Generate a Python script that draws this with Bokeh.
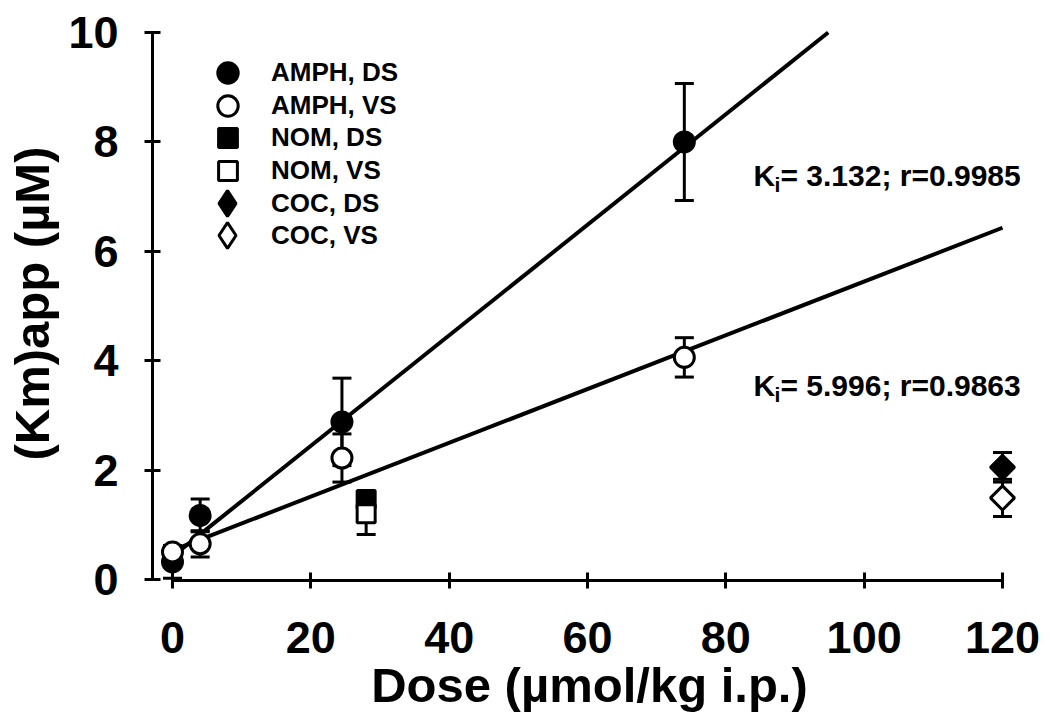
import math
from bokeh.plotting import figure
from bokeh.models import (ColumnDataSource, Range1d, FixedTicker, Whisker, TeeHead,
                          Label, Legend, LegendItem)
from bokeh.embed import file_html
from bokeh.resources import INLINE

# ---------------- data ----------------
amph_dose = [0, 4, 24.5, 74]
amph_ds = [0.32, 1.17, 2.88, 8.0]
amph_ds_err = [0.3, 0.3, 0.8, 1.07]
amph_vs = [0.5, 0.65, 2.22, 4.06]
amph_vs_err = [0.12, 0.24, 0.44, 0.36]

nom_dose = [28]
nom_ds = [1.46]
nom_ds_err = [0.1]
nom_vs = [1.2]
nom_vs_err = [0.38]

coc_dose = [120]
coc_ds = [2.05]
coc_ds_err = [0.27]
coc_vs = [1.49]
coc_vs_err = [0.34]

fit_ds_x = [0, 94.8]
fit_ds_y = [0.42, 10.0]
fit_vs_x = [0, 120]
fit_vs_y = [0.53, 6.43]

x_ticks = [0, 20, 40, 60, 80, 100, 120]
y_ticks = [0, 2, 4, 6, 8, 10]

legend_labels = ["AMPH, DS", "AMPH, VS", "NOM, DS", "NOM, VS", "COC, DS", "COC, VS"]
ki_texts = ["= 3.132; r=0.9985", "= 5.996; r=0.9863"]
ki_anchor_x = [84.0, 84.0]
ki_anchor_y = [7.386, 3.547]

FONT = "Liberation Sans"

p = figure(width=1050, height=721, output_backend="svg", toolbar_location=None,
           x_range=Range1d(-2.89, 123.47), y_range=Range1d(-0.02, 10.11),
           min_border_left=152, min_border_right=24, min_border_top=26, min_border_bottom=141)
p.background_fill_color = "white"
p.border_fill_color = "white"
p.outline_line_color = None
p.grid.visible = False

for ax in (p.xaxis[0], p.yaxis[0]):
    ax.axis_line_width = 3
    ax.axis_line_color = "black"
    ax.major_tick_line_width = 3
    ax.major_tick_line_color = "black"
    ax.major_tick_in = 8
    ax.major_tick_out = 8
    ax.minor_tick_line_color = None
    ax.major_label_text_font = FONT
    ax.major_label_text_font_style = "bold"
    ax.major_label_text_font_size = "45px"
    ax.major_label_text_color = "black"
    ax.axis_label_text_font = FONT
    ax.axis_label_text_font_style = "bold"
    ax.axis_label_text_font_size = "49px"
    ax.axis_label_text_color = "black"

p.xaxis.major_label_standoff = 33
p.yaxis.major_label_standoff = 26
p.xaxis.axis_label = "Dose (µmol/kg i.p.)"
p.yaxis.axis_label = "(Km)app (µM)"
p.xaxis.axis_label_standoff = 2
p.yaxis.axis_label_standoff = 6

p.xaxis.ticker = FixedTicker(ticks=x_ticks)
p.yaxis.ticker = FixedTicker(ticks=y_ticks)
p.xaxis.bounds = (0, 120)
p.yaxis.bounds = (0, 10)

# fit lines
p.line(fit_ds_x, fit_ds_y, line_color="black", line_width=4)
p.line(fit_vs_x, fit_vs_y, line_color="black", line_width=4)


def whisk(xs, ys, es):
    src = ColumnDataSource(dict(x=xs, upper=[y + e for y, e in zip(ys, es)],
                                lower=[y - e for y, e in zip(ys, es)]))
    w = Whisker(source=src, base="x", upper="upper", lower="lower", dimension="height",
                line_color="black", line_width=3,
                upper_head=TeeHead(size=19, line_width=3, line_color="black"),
                lower_head=TeeHead(size=19, line_width=3, line_color="black"))
    w.level = "underlay"
    p.add_layout(w)


for xs, ys, es in [(amph_dose, amph_ds, amph_ds_err), (amph_dose, amph_vs, amph_vs_err),
                   (nom_dose, nom_ds, nom_ds_err), (nom_dose, nom_vs, nom_vs_err),
                   (coc_dose, coc_ds, coc_ds_err), (coc_dose, coc_vs, coc_vs_err)]:
    whisk(xs, ys, es)

r1 = p.scatter(amph_dose, amph_ds, marker="circle", size=20, fill_color="black", line_color="black", line_width=3)
r2 = p.scatter(amph_dose, amph_vs, marker="circle", size=20, fill_color="white", line_color="black", line_width=3)
r3 = p.scatter(nom_dose, nom_ds, marker="square", size=18, fill_color="black", line_color="black", line_width=3)
r4 = p.scatter(nom_dose, nom_vs, marker="square", size=18, fill_color="white", line_color="black", line_width=3)
r5 = p.scatter(coc_dose, coc_ds, marker="square", angle=math.pi / 4, size=17, fill_color="black", line_color="black", line_width=3)
r6 = p.scatter(coc_dose, coc_vs, marker="square", angle=math.pi / 4, size=17, fill_color="white", line_color="black", line_width=3)

# legend-only diamond symbols (legend glyphs are drawn unrotated); NaN position => nothing drawn in plot
nan = float("nan")
k5 = p.scatter(x=[nan], y=[nan], marker="diamond", size=10, fill_color="black", line_color="black", line_width=3)
k6 = p.scatter(x=[nan], y=[nan], marker="diamond", size=10, fill_color="white", line_color="black", line_width=3)

# legends (one per entry so each symbol gets its own size)
FRAME_LEFT, FRAME_BOTTOM = 152, 580
row_y = [73, 105.4, 137.8, 170.2, 202.6, 235]
glyph_box = [51, 51, 47, 47, 64, 64]
for lab, rend, ry, g in zip(legend_labels, [r1, r2, r3, r4, k5, k6], row_y, glyph_box):
    lg = Legend(items=[LegendItem(label=lab, renderers=[rend])],
                location=(int(round(227 - g / 2 - FRAME_LEFT)), int(round(FRAME_BOTTOM - (ry + g / 2)))),
                glyph_width=g, glyph_height=g, label_standoff=int(round(44 - g / 2)),
                padding=0, margin=0, spacing=0,
                border_line_color=None, background_fill_alpha=0,
                label_text_font=FONT, label_text_font_style="bold",
                label_text_font_size="26px", label_text_color="black")
    p.add_layout(lg)

# Ki annotations
for tx, ax_, ay_ in zip(ki_texts, ki_anchor_x, ki_anchor_y):
    p.add_layout(Label(x=ax_, y=ay_, text="K", text_font=FONT, text_font_style="bold",
                       text_font_size="30px", text_baseline="alphabetic", text_color="black"))
    p.add_layout(Label(x=ax_, y=ay_, x_offset=21, y_offset=-9, text="i", text_font=FONT,
                       text_font_style="bold", text_font_size="21px", text_baseline="alphabetic",
                       text_color="black"))
    p.add_layout(Label(x=ax_, y=ay_, x_offset=27, text=tx, text_font=FONT, text_font_style="bold",
                       text_font_size="30px", text_baseline="alphabetic", text_color="black"))

open("out.html", "w").write(file_html(p, INLINE))
